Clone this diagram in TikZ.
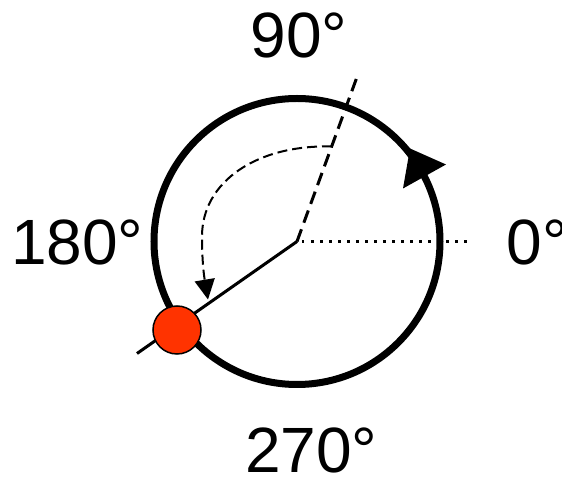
\documentclass[tikz,border=0pt]{standalone}
\usepackage{fontspec}
\setmainfont{Liberation Sans}
\usetikzlibrary{arrows.meta}
\definecolor{dotred}{RGB}{255,51,0}

\begin{document}
\begin{tikzpicture}[>=latex, x=1pt, y=1pt,
  deg/.style={anchor=base west, inner sep=0pt, font=\fontsize{64}{64}\selectfont},
  ring/.style={line width=7pt},
  phase/.style={line width=3pt, dash pattern=on 13pt off 7pt},
  sweep/.style={line width=2pt, dash pattern=on 10pt off 5pt}]
\useasboundingbox (-297,-236.5) rectangle (265,241.5);
\coordinate (O) at (0,0);
\coordinate (ref) at (170,0);
\coordinate (tip) at (60,164.5);
\coordinate (ray) at (-160,-112);
% labels
\node[deg] (n90) at (-46.7,183.5) {90°};
\node[deg] (n180) at (-286,-23.5) {180°};
\node[deg] (n0) at (209.3,-23.5) {0°};
\node[deg] (n270) at (-52,-231.5) {270°};
% circle and direction arrow
\draw[ring] (O) circle (143);
\fill (106,53) -- (113,93) -- (149,77) -- cycle;
% lines from the centre
\draw[line width=2.5pt, dash pattern=on 2.5pt off 6.5pt] ([xshift=5pt]O) -- (ref);
\draw[phase] (O) -- (tip);
\draw[line width=3pt] (O) -- (ray);
\draw[sweep, -{Triangle[length=20pt,width=20pt]}] (35,95)
  .. controls (-40,97) and (-95,60) .. (-95,5)
  .. controls (-95,-25) and (-92,-40) .. (-89,-58);
\node[circle, fill=dotred, draw=black, line width=1.5pt, minimum size=48pt,
  inner sep=0pt] (dot) at (-120,-88.5) {};
\end{tikzpicture}
\end{document}
